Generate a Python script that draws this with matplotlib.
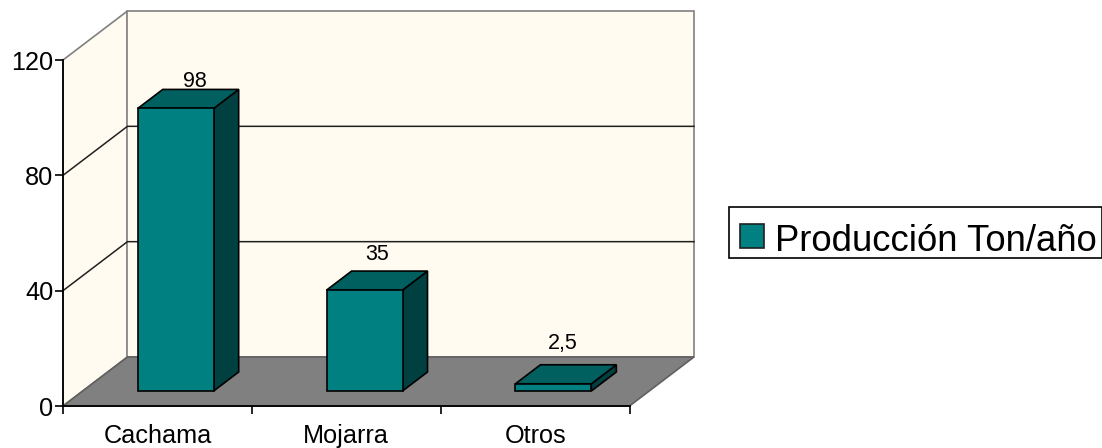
import matplotlib
matplotlib.use('Agg')
from matplotlib import pyplot as plt
from matplotlib.patches import Polygon, Rectangle

plt.rcParams['font.family'] = ['Liberation Sans', 'DejaVu Sans']

categorias = ['Cachama', 'Mojarra', 'Otros']
produccion = [98, 35, 2.5]
etiquetas = ['98', '35', '2,5']
ticks_y = [0, 40, 80, 120]
serie = 'Producción Ton/año'

PARED = '#FFFBF0'
PISO = '#808080'
FRENTE = '#008080'
TAPA = '#005F5F'
LADO = '#004040'

W, H = 1102, 448
fig = plt.figure(figsize=(W / 100, H / 100), dpi=100)
# eje sobre el plano frontal, la profundidad se proyecta con un desplazamiento
ax = fig.add_axes([63 / W, 1 - 406 / H, 566.5 / W, 346 / H])
ax.set_xlim(0, 3)
ax.set_ylim(0, 120)
ax.patch.set_visible(False)

DX = 64.5 / 189
DY = 120 * 49 / 346


def p(x, y, d=0.0):
    return (x + d * DX, y + d * DY)


def cara(puntos, color, edge='black', lw=1.2, z=2):
    ax.add_patch(Polygon(puntos, closed=True, facecolor=color, edgecolor=edge,
                         linewidth=lw, zorder=z, clip_on=False))


# paredes y piso
cara([p(0, 0), p(0, 0, 1), p(0, 120, 1), p(0, 120)], PARED, '#808080', 1.2, 1)
cara([p(0, 0, 1), p(3, 0, 1), p(3, 120, 1), p(0, 120, 1)], PARED, '#808080', 1.2, 1)
cara([p(0, 0), p(3, 0), p(3, 0, 1), p(0, 0, 1)], PISO, '#606060', 1.2, 1.5)

for t in ticks_y[1:-1]:
    ax.plot(*zip(p(0, t), p(0, t, 1), p(3, t, 1)), color='#202020', lw=1.1, zorder=1.7, clip_on=False)

# barras
d0, d1 = 0.306, 0.694
ancho = 0.402
for i, v in enumerate(produccion):
    x0 = i + 0.2915
    x1 = x0 + ancho
    cara([p(x1, 0, d0), p(x1, 0, d1), p(x1, v, d1), p(x1, v, d0)], LADO, z=2 + i)
    cara([p(x0, v, d0), p(x1, v, d0), p(x1, v, d1), p(x0, v, d1)], TAPA, z=2 + i)
    cara([p(x0, 0, d0), p(x1, 0, d0), p(x1, v, d0), p(x0, v, d0)], FRENTE, z=2 + i)
    ax.text(x0 + ancho / 2 + d0 * DX + (9 + 0.1 * v) / 189, 19.4 + 0.95 * v, etiquetas[i],
            ha='center', va='center', fontsize=15.5, color='black', zorder=10)

for s in ['top', 'right']:
    ax.spines[s].set_visible(False)
for s in ['left', 'bottom']:
    ax.spines[s].set_linewidth(1.3)
    ax.spines[s].set_zorder(6)
ax.set_yticks(ticks_y)
ax.set_xticks(range(4))
ax.set_xticks([0.5, 1.5, 2.5], categorias, minor=True)
ax.set_xticklabels([])
ax.tick_params(axis='x', which='major', length=6, width=1.2)
ax.tick_params(axis='x', which='minor', length=0, pad=13, labelsize=18.2)
ax.tick_params(axis='y', length=6, width=1.2, labelsize=18.2, pad=1)

# leyenda: caja, cuadro y texto en pixeles de la figura
fig.add_artist(Rectangle((729 / W, 1 - 258 / H), 372.5 / W, 51 / H, transform=fig.transFigure,
                         facecolor='white', edgecolor='black', linewidth=1.2))
fig.add_artist(Rectangle((739.5 / W, 1 - 248 / H), 24 / W, 24 / H, transform=fig.transFigure,
                         facecolor=FRENTE, edgecolor='#202020', linewidth=1.2))
fig.text(775 / W, 1 - 241 / H, serie, fontsize=26.3, ha='left', va='center', color='black')

fig.savefig('out.png', dpi=100)
